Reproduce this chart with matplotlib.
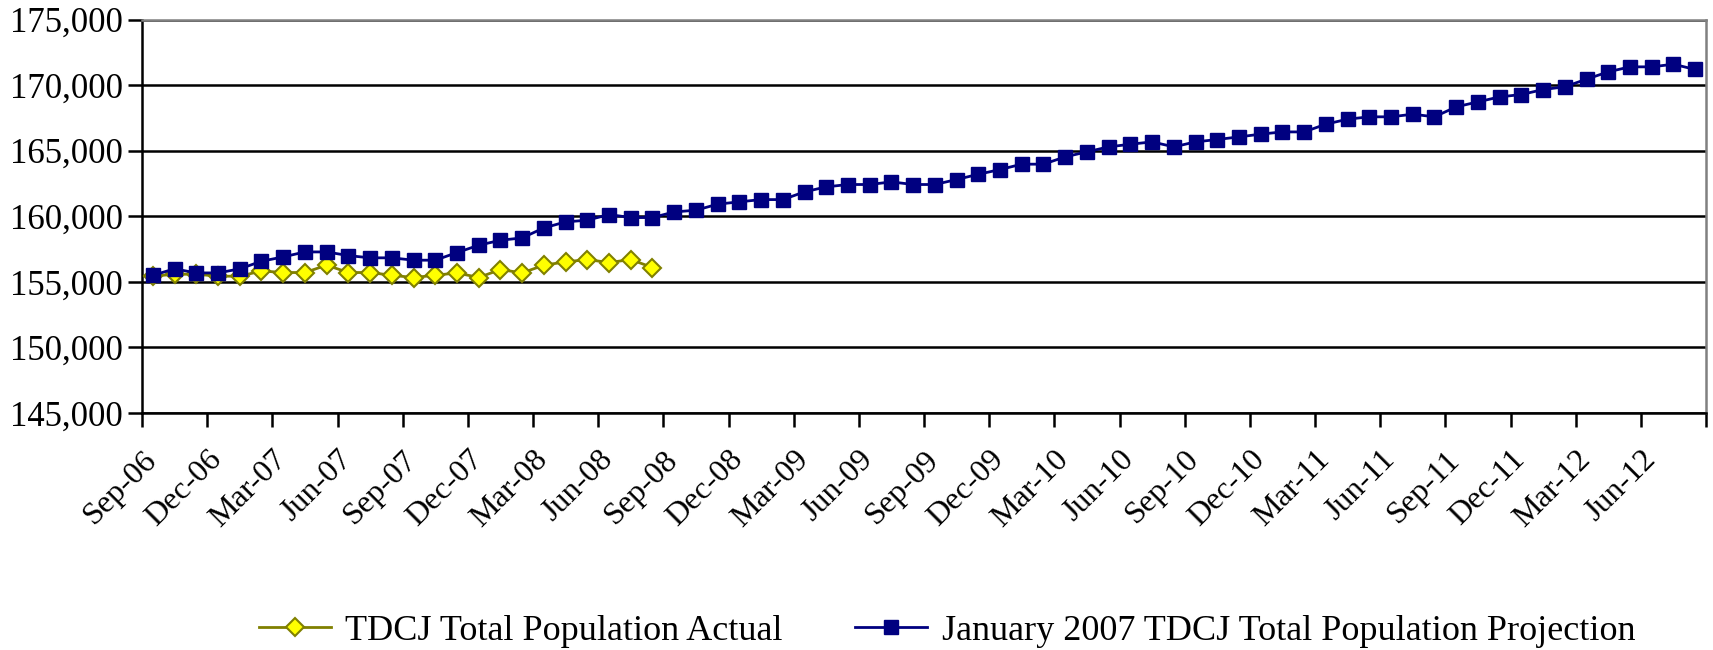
import numpy as np
import pandas as pd
import matplotlib
matplotlib.use("Agg")
import matplotlib.pyplot as plt
from matplotlib.ticker import FuncFormatter

# monthly categories, Sep-06 .. Aug-12
months = pd.date_range("2006-09-01", "2012-08-01", freq="MS").strftime("%b-%y").tolist()

# TDCJ Total Population Actual (Sep-06 .. Aug-08)
actual = [155430, 155580, 155580, 155430, 155430, 155830, 155710, 155710,
          156270, 155710, 155710, 155500, 155330, 155500, 155680, 155330,
          155940, 155680, 156270, 156520, 156700, 156470, 156700, 156090]

# January 2007 TDCJ Total Population Projection (Sep-06 .. Aug-12)
projection = [155500, 155990, 155680, 155680, 155990, 156570, 156900, 157280,
              157280, 157000, 156830, 156830, 156650, 156650, 157230, 157790,
              158170, 158350, 159110, 159570, 159700, 160130, 159900, 159900,
              160330, 160460, 160920, 161100, 161270, 161270, 161860, 162240,
              162420, 162420, 162620, 162420, 162420, 162800, 163200, 163560,
              163970, 163970, 164530, 164910, 165290, 165490, 165670, 165290,
              165670, 165850, 166050, 166260, 166430, 166430, 167020, 167400,
              167580, 167580, 167780, 167580, 168340, 168720, 169100, 169280,
              169660, 169870, 170450, 171010, 171390, 171390, 171590, 171190]

yticks = [145000, 150000, 155000, 160000, 165000, 170000, 175000]

plt.rcParams['font.family'] = ['Liberation Serif', 'DejaVu Serif']

fig = plt.figure(figsize=(17.13, 6.5), dpi=100)
ax = fig.add_axes([142 / 1713, 1 - 413 / 650, (1706 - 142) / 1713, (413 - 19.5) / 650])

x_act = np.arange(len(actual))
x_proj = np.arange(len(projection))

ax.plot(x_act, actual, color='#808000', linewidth=2, marker='D', markersize=9.5,
        markerfacecolor='#FFFF00', markeredgecolor='#808000', markeredgewidth=1.5,
        label='TDCJ Total Population Actual', zorder=3)
ax.plot(x_proj, projection, color='#000080', linewidth=2, marker='s', markersize=10.5,
        markerfacecolor='#000080', markeredgecolor='#000080',
        label='January 2007 TDCJ Total Population Projection', zorder=4)

ax.set_xlim(-0.5, len(months) - 0.5)
ax.set_ylim(yticks[0], yticks[-1])
ax.set_yticks(yticks)
ax.yaxis.set_major_formatter(FuncFormatter(lambda v, p: f"{int(v):,}"))
ax.yaxis.grid(True, color='black', linewidth=1.8)
ax.set_axisbelow(True)

tick_pos = np.arange(-0.5, len(months), 3)
ax.set_xticks(tick_pos)
ax.set_xticklabels([months[int(p + 0.5)] if int(p + 0.5) < len(months) else '' for p in tick_pos],
                   rotation=45, ha='right', rotation_mode='anchor', fontsize=23)
ax.tick_params(axis='x', direction='out', length=10, width=1.8, pad=13)
ax.tick_params(axis='y', direction='out', length=10, width=1.8, labelsize=25, pad=4)

for side in ['left', 'bottom']:
    ax.spines[side].set_color('black')
    ax.spines[side].set_linewidth(1.8)
for side in ['top', 'right']:
    ax.spines[side].set_color('#808080')
    ax.spines[side].set_linewidth(1.8)

fig.legend(loc='center', bbox_to_anchor=(947 / 1713, 1 - 631 / 650), ncol=2,
           frameon=False, fontsize=26, handlelength=2.0, columnspacing=2.0,
           handletextpad=0.4)

fig.savefig("out.png", dpi=100)
